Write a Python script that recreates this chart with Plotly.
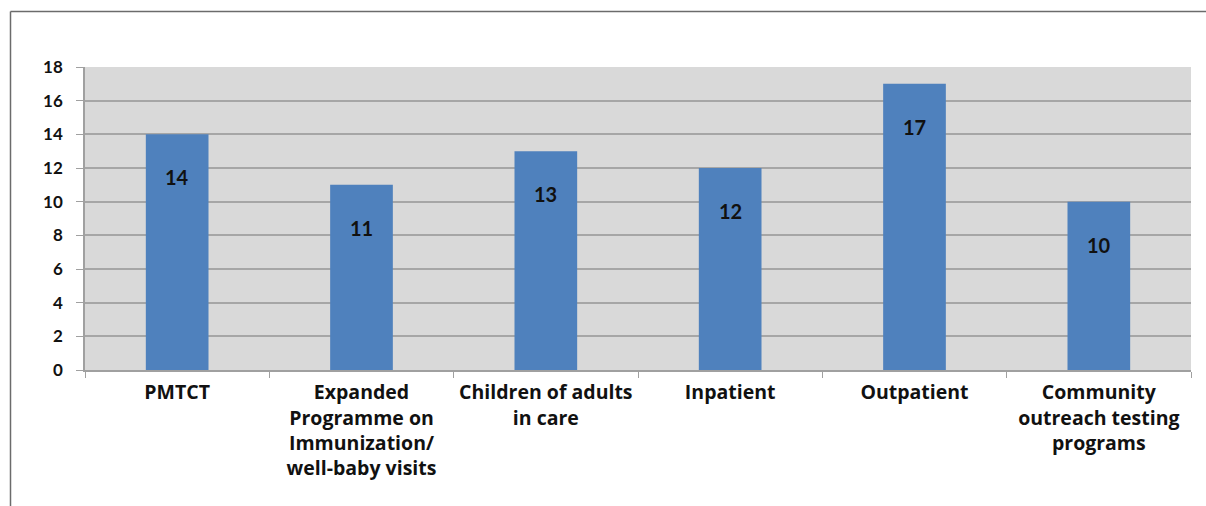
import plotly.graph_objects as go

categories = ["PMTCT", "Expanded<br>Programme on<br>Immunization/<br>well-baby visits",
              "Children of adults<br>in care", "Inpatient", "Outpatient",
              "Community<br>outreach testing<br>programs"]
values = [14, 11, 13, 12, 17, 10]
y_ticks = [0, 2, 4, 6, 8, 10, 12, 14, 16, 18]

FONT = "Lato"
CAT_FONT = "Open Sans"
fig = go.Figure()
fig.add_trace(go.Bar(x=categories, y=values, marker=dict(color="#4F81BD", line=dict(width=0)),
                     showlegend=False, hoverinfo="skip"))

for c, v in zip(categories, values):
    fig.add_annotation(x=c, y=v, text=str(v), showarrow=False, yanchor="middle", yshift=-43,
                       font=dict(family=FONT, size=20, color="#111111", weight="bold"))

W, H = 1206, 506
L, R, T, B = 85, 15, 67, 136
pw, ph = W - L - R, H - T - B
def px(x):
    return (x - L) / pw
def py(y):
    return (H - B - y) / ph

# outer chart border (left and top)
fig.add_shape(type="line", xref="paper", yref="paper", x0=px(10.5), x1=px(1220), y0=py(11.5), y1=py(11.5),
              line=dict(color="#6b6b6b", width=1.5), layer="above")
fig.add_shape(type="line", xref="paper", yref="paper", x0=px(10.5), x1=px(10.5), y0=py(11.5), y1=py(520),
              line=dict(color="#6b6b6b", width=1.5), layer="above")

fig.update_layout(
    width=W, height=H,
    margin=dict(l=L, r=R, t=T, b=B),
    paper_bgcolor="white", plot_bgcolor="#D9D9D9",
    bargap=0.66,
    font=dict(family=FONT, size=17, color="#111111"),
    xaxis=dict(showgrid=False, tickson="boundaries", ticks="outside", ticklen=6, tickcolor="#A0A0A0",
               showline=True, linecolor="#A0A0A0", linewidth=1.5,
               tickfont=dict(family=CAT_FONT, size=19.5, color="#111111", weight="bold"),
               ticklabelstandoff=4),
    yaxis=dict(range=[0, 18], tickvals=y_ticks, showgrid=True, gridcolor="#A6A6A6", gridwidth=2,
               ticks="outside", ticklen=7, tickcolor="#A0A0A0", showline=True, linecolor="#A0A0A0",
               linewidth=1.5, zeroline=False,
               tickfont=dict(family=FONT, size=17, color="#111111", weight="bold"),
               ticklabelstandoff=10),
)
fig.write_html("out.html")
